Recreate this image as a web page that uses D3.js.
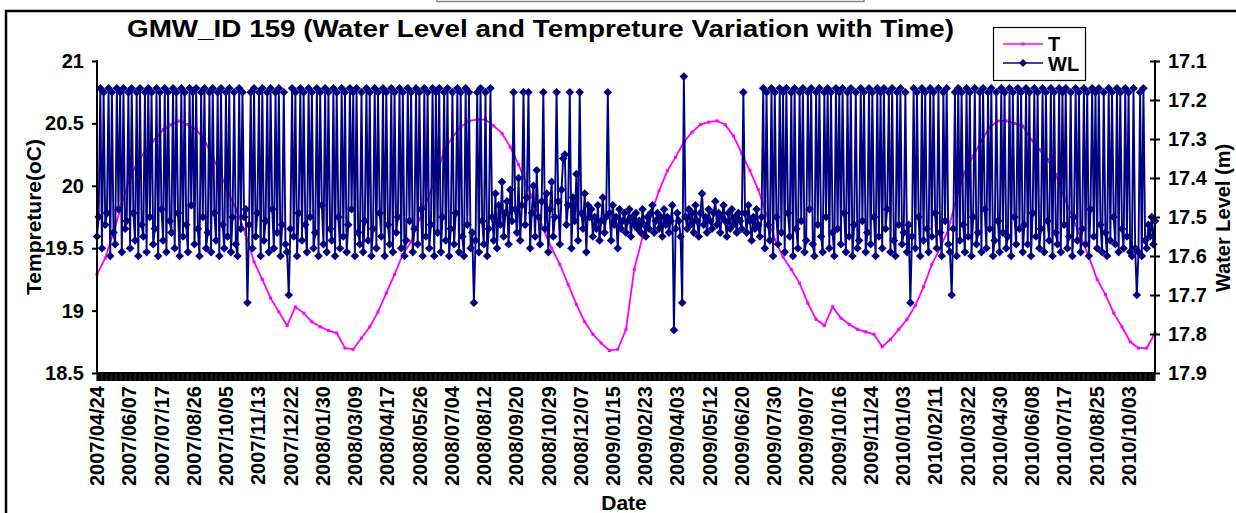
<!DOCTYPE html>
<html><head><meta charset="utf-8">
<script src="https://cdn.jsdelivr.net/npm/d3@7"></script>
<style>
body{margin:0;background:#fff;}
svg text{font-family:"Liberation Sans",Arial,sans-serif;font-weight:bold;fill:#000;}
</style></head><body>
<svg id="c" width="1236" height="513"></svg>
<script>
const tickLabels = ["2007/04/24","2007/06/07","2007/07/17","2007/08/26","2007/10/05","2007/11/13","2007/12/22","2008/01/30","2008/03/09","2008/04/17","2008/05/26","2008/07/04","2008/08/12","2008/09/20","2008/10/29","2008/12/07","2009/01/15","2009/02/23","2009/04/03","2009/05/12","2009/06/20","2009/07/30","2009/09/07","2009/10/16","2009/11/24","2010/01/03","2010/02/11","2010/03/22","2010/04/30","2010/06/08","2010/07/17","2010/08/25","2010/10/03"];
const labelEvery = 39;        // categories between labels
const categoryCount = 1281;   // daily readings on the category axis
const tempStep = 10;          // temperature read every 10 readings
const tempValues = [
19.29,19.42,19.63,19.85,20.07,20.20,20.29,20.37,20.45,20.49,
20.52,20.49,20.45,20.37,20.23,20.09,19.93,19.79,19.61,19.39,
19.25,19.10,18.99,18.88,19.03,18.98,18.91,18.87,18.84,18.82,
18.70,18.69,18.78,18.87,18.99,19.14,19.29,19.45,19.55,19.73,
19.89,20.07,20.28,20.39,20.47,20.52,20.53,20.53,20.48,20.42,
20.31,20.17,20.01,19.85,19.65,19.50,19.37,19.21,19.05,18.91,
18.81,18.74,18.68,18.69,18.85,19.33,19.59,19.77,19.96,20.12,
20.23,20.35,20.43,20.49,20.51,20.52,20.49,20.40,20.26,20.12,
19.97,19.77,19.57,19.43,19.33,19.22,19.06,18.93,18.88,19.03,
18.94,18.89,18.85,18.83,18.81,18.71,18.77,18.85,18.93,19.04,
19.19,19.37,19.50,19.65,19.91,20.11,20.24,20.36,20.47,20.52,
20.52,20.50,20.48,20.37,20.29,20.21,20.09,19.91,19.75,19.59,
19.43,19.25,19.13,18.98,18.87,18.75,18.70,18.70,18.82];
const wlStep = 2;             // water level read every 2 readings
const wlValues = [
17.55,17.50,17.17,17.58,17.18,17.52,17.49,17.17,17.60,17.18,17.54,17.57,17.17,17.48,17.18,17.59,17.17,17.53,17.51,17.18,
17.58,17.17,17.49,17.56,17.18,17.60,17.17,17.52,17.55,17.18,17.59,17.17,17.50,17.18,17.57,17.53,17.17,17.60,17.18,17.48,
17.56,17.17,17.59,17.18,17.51,17.54,17.17,17.58,17.18,17.49,17.60,17.17,17.55,17.18,17.52,17.59,17.17,17.47,17.18,17.57,
17.17,17.53,17.60,17.18,17.50,17.17,17.58,17.54,17.18,17.59,17.17,17.49,17.56,17.18,17.60,17.17,17.52,17.58,17.18,17.55,
17.17,17.59,17.50,17.18,17.57,17.60,17.17,17.53,17.18,17.50,17.48,17.72,17.52,17.18,17.58,17.17,17.55,17.49,17.18,17.60,
17.17,17.56,17.51,17.18,17.59,17.17,17.48,17.58,17.18,17.54,17.17,17.60,17.52,17.18,17.57,17.59,17.70,17.53,17.17,17.55,
17.18,17.60,17.49,17.17,17.56,17.18,17.52,17.59,17.17,17.50,17.18,17.58,17.54,17.17,17.60,17.18,17.47,17.57,17.17,17.59,
17.18,17.53,17.56,17.17,17.60,17.18,17.50,17.58,17.17,17.55,17.18,17.59,17.52,17.17,17.48,17.18,17.60,17.17,17.54,17.57,
17.18,17.59,17.51,17.17,17.56,17.18,17.60,17.53,17.17,17.58,17.18,17.49,17.55,17.17,17.60,17.18,17.52,17.57,17.17,17.59,
17.18,17.54,17.50,17.17,17.58,17.18,17.60,17.56,17.17,17.51,17.18,17.59,17.53,17.17,17.57,17.18,17.48,17.60,17.17,17.55,
17.18,17.58,17.52,17.17,17.60,17.18,17.54,17.17,17.59,17.50,17.18,17.56,17.17,17.60,17.53,17.18,17.57,17.49,17.17,17.59,
17.18,17.55,17.60,17.17,17.52,17.18,17.58,17.54,17.72,17.56,17.18,17.59,17.17,17.51,17.57,17.18,17.60,17.53,17.17,
17.50,17.56,17.44,17.58,17.47,17.52,17.41,17.55,17.49,17.46,17.57,17.43,17.51,17.18,17.48,17.54,17.40,17.56,17.47,17.18,
17.52,17.45,17.18,17.58,17.49,17.42,17.55,17.38,17.50,17.57,17.46,17.18,17.53,17.44,17.59,17.48,17.41,17.55,17.50,17.18,
17.46,17.57,17.43,17.35,17.34,17.52,17.47,17.18,17.58,17.45,17.51,17.39,17.56,17.18,17.49,17.53,17.44,17.59,17.47,17.50,
17.48,17.55,17.50,17.53,17.47,17.56,17.51,17.45,17.54,17.50,17.18,17.49,17.56,17.47,17.52,17.50,17.58,17.48,17.53,17.51,
17.49,17.54,17.51,17.48,17.55,17.50,17.52,17.49,17.53,17.51,17.54,17.48,17.52,17.55,17.50,17.53,17.49,17.47,17.54,17.51,
17.49,17.53,17.50,17.55,17.48,17.52,17.50,17.54,17.51,17.47,17.79,17.53,17.49,17.51,17.55,17.72,17.14,17.50,17.53,17.48,
17.52,17.49,17.54,17.47,17.51,17.55,17.49,17.44,17.52,17.50,17.54,17.48,17.51,17.53,17.49,17.46,17.52,17.49,17.54,17.50,
17.47,17.51,17.55,17.49,17.53,17.48,17.52,17.50,17.54,17.49,17.51,17.53,17.18,17.49,17.54,17.47,17.51,17.56,17.50,17.53,
17.48,17.52,17.55,17.50,
17.17,17.58,17.18,17.52,17.56,17.17,17.60,17.18,17.50,17.57,17.17,17.54,17.18,17.59,17.17,17.49,17.55,17.18,17.60,17.17,
17.53,17.58,17.18,17.51,17.17,17.59,17.56,17.18,17.48,17.17,17.57,17.60,17.18,17.52,17.17,17.55,17.59,17.18,17.50,17.17,
17.58,17.18,17.54,17.60,17.17,17.53,17.18,17.57,17.17,17.49,17.59,17.18,17.55,17.17,17.60,17.52,17.18,17.58,17.56,17.17,
17.51,17.18,17.59,17.54,17.17,17.57,17.18,17.50,17.60,17.17,17.55,17.18,17.58,17.17,17.53,17.48,17.18,17.59,17.17,17.56,
17.60,17.18,17.52,17.17,17.57,17.54,17.18,17.59,17.52,17.72,17.55,17.17,17.58,17.18,17.50,17.60,17.17,17.56,17.18,17.53,
17.59,17.17,17.55,17.18,17.49,17.58,17.17,17.54,17.60,17.18,17.51,17.17,17.57,17.59,17.70,17.53,17.18,17.60,17.17,17.56,
17.18,17.52,17.59,17.17,17.55,17.18,17.60,17.50,17.17,17.57,17.54,17.18,17.59,17.17,17.48,17.58,17.18,17.53,17.17,17.60,
17.56,17.18,17.51,17.59,17.17,17.54,17.18,17.58,17.55,17.17,17.60,17.18,17.50,17.57,17.17,17.53,17.18,17.59,17.52,17.17,
17.57,17.18,17.60,17.49,17.17,17.55,17.18,17.58,17.53,17.17,17.59,17.18,17.51,17.56,17.17,17.60,17.18,17.54,17.57,17.17,
17.59,17.18,17.52,17.17,17.58,17.55,17.18,17.60,17.50,17.17,17.56,17.18,17.59,17.53,17.17,17.57,17.18,17.60,17.48,17.17,
17.55,17.18,17.58,17.17,17.52,17.59,17.18,17.54,17.60,17.17,17.56,17.18,17.50,17.57,17.17,17.59,17.18,17.53,17.58,17.17,
17.55,17.18,17.59,17.60,17.17,17.58,17.70,17.59,17.18,17.60,17.17,17.56,17.58,17.52,17.55,17.50,17.57,17.51];
const tempTicks = [18.5,19,19.5,20,20.5,21];
const wlTicks = [17.1,17.2,17.3,17.4,17.5,17.6,17.7,17.8,17.9];
const titleText = "GMW_ID 159 (Water Level and Tempreture Variation with Time)";

const svg = d3.select("#c");
const L = 97, R = 1155, T = 61, B = 373;
const navy = "#000080", pink = "#FF00FF";

const x = d3.scaleLinear().domain([0, categoryCount - 1]).range([L, R]);
const yT = d3.scaleLinear().domain([18.5, 21]).range([B, T]);
const yW = d3.scaleLinear().domain([17.1, 17.9]).range([T, B]);

// frame remnants
svg.append("path").attr("d","M437,0V1.5H864V0").attr("fill","none").attr("stroke","#888").attr("stroke-width",1.5);
svg.append("path").attr("d","M6,513V11H1236").attr("fill","none").attr("stroke","#000").attr("stroke-width",2.5);

// title
svg.append("text").attr("x",127).attr("y",37).attr("font-size",23)
  .attr("textLength",827).attr("lengthAdjust","spacingAndGlyphs").text(titleText);

// temperature series
const tData = tempValues.map((v,i)=>({c:i*tempStep, v}));
svg.append("path").datum(tData)
  .attr("d", d3.line().x(d=>x(d.c)).y(d=>yT(d.v)))
  .attr("fill","none").attr("stroke",pink).attr("stroke-width",1.8);
svg.append("g").selectAll("rect").data(tData).join("rect")
  .attr("x",d=>x(d.c)-1.5).attr("y",d=>yT(d.v)-1.5).attr("width",3).attr("height",3).attr("fill",pink);

// water level series
const wData = wlValues.map((v,i)=>({c:i*wlStep, v}));
svg.append("path").datum(wData)
  .attr("d", d3.line().x(d=>x(d.c)).y(d=>yW(d.v)))
  .attr("fill","none").attr("stroke",navy).attr("stroke-width",1.9).attr("stroke-linejoin","miter").attr("stroke-miterlimit",2);
const dia = r => `M0,${-r}L${r},0L0,${r}L${-r},0Z`;
svg.append("g").selectAll("path").data(wData).join("path")
  .attr("transform",d=>`translate(${x(d.c)},${yW(d.v)})`)
  .attr("d",dia(4.3)).attr("fill",navy);

// left axis
const gl = svg.append("g").attr("transform",`translate(${L},0)`)
  .call(d3.axisLeft(yT).tickValues(tempTicks).tickSize(5).tickPadding(8).tickFormat(d3.format("")));
gl.select(".domain").attr("stroke","#000").attr("stroke-width",2).attr("d",`M0,${T-1}V${B}`);
gl.selectAll(".tick line").attr("stroke","#000").attr("stroke-width",2);
gl.selectAll("text").attr("font-size",20).attr("font-family","Liberation Sans, Arial, sans-serif").attr("font-weight","bold");

// right axis (ticks cross)
const gr = svg.append("g").attr("transform",`translate(${R},0)`)
  .call(d3.axisRight(yW).tickValues(wlTicks).tickSize(5).tickPadding(8).tickFormat(d3.format("")));
gr.select(".domain").attr("stroke","#000").attr("stroke-width",2).attr("d",`M0,${T-1}V${B}`);
gr.selectAll(".tick line").attr("stroke","#000").attr("stroke-width",2).attr("x1",-5);
gr.selectAll("text").attr("font-size",20).attr("font-family","Liberation Sans, Arial, sans-serif").attr("font-weight","bold");

// bottom category axis: a tick on every category forms a dense band
svg.append("g").selectAll("line").data(d3.range(categoryCount)).join("line")
  .attr("x1",d=>x(d)).attr("x2",d=>x(d)).attr("y1",B).attr("y2",B+8)
  .attr("stroke","#000").attr("stroke-width",1.2);
svg.append("line").attr("x1",L).attr("x2",R).attr("y1",B).attr("y2",B).attr("stroke","#000").attr("stroke-width",2);

svg.append("g").selectAll("text").data(tickLabels).join("text")
  .attr("transform",(d,i)=>`translate(${x(i*labelEvery)},386) rotate(-90)`)
  .attr("text-anchor","end").attr("dy","0.36em").attr("font-size",20).text(d=>d);

// axis titles
svg.append("text").attr("x",624).attr("y",510).attr("text-anchor","middle").attr("font-size",21).text("Date");
svg.append("text").attr("transform","translate(33,217) rotate(-90)").attr("text-anchor","middle")
  .attr("dy","0.36em").attr("font-size",21).text("Tempreture(oC)");
svg.append("text").attr("transform","translate(1223,218) rotate(-90)").attr("text-anchor","middle")
  .attr("dy","0.36em").attr("font-size",20).text("Water Level (m)");

// legend
const lg = svg.append("g");
lg.append("rect").attr("x",993.5).attr("y",27.5).attr("width",92).attr("height",53).attr("fill","#fff").attr("stroke","#000").attr("stroke-width",1.2);
lg.append("line").attr("x1",1003).attr("x2",1043).attr("y1",44).attr("y2",44).attr("stroke",pink).attr("stroke-width",1.6);
lg.append("rect").attr("x",1021.5).attr("y",42.5).attr("width",3).attr("height",3).attr("fill",pink);
lg.append("line").attr("x1",1003).attr("x2",1043).attr("y1",63).attr("y2",63).attr("stroke",navy).attr("stroke-width",1.3);
lg.append("path").attr("transform","translate(1023,63)").attr("d",dia(4)).attr("fill",navy);
lg.append("text").attr("x",1048).attr("y",51).attr("font-size",20).text("T");
lg.append("text").attr("x",1048).attr("y",71).attr("font-size",20).text("WL");
</script>
</body></html>
